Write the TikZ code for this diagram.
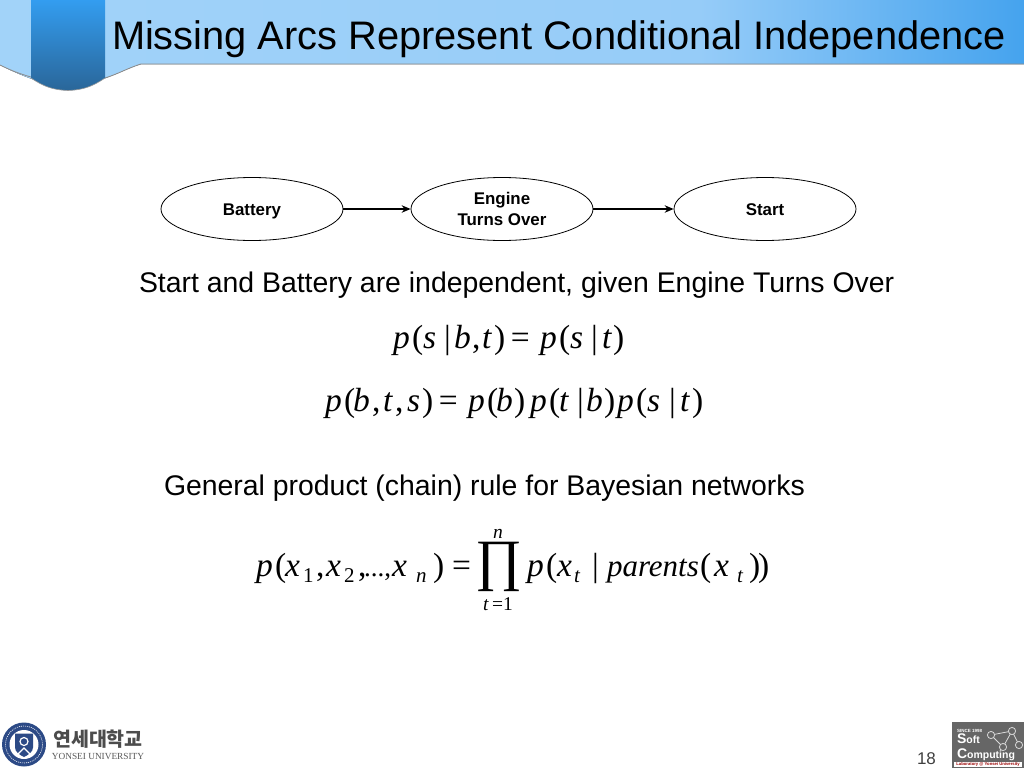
\documentclass[tikz,border=0pt]{standalone}
\usepackage{fontspec}
\setmainfont{Liberation Sans}
\newfontfamily\serifm{Liberation Serif}
\newfontfamily\krfont{Noto Sans CJK KR}
\usetikzlibrary{arrows.meta,shadings,shapes.geometric}
\newcommand{\fs}[1]{\fontsize{#1}{#1}\selectfont}
\newcommand{\mi}[1]{\textit{#1}}
% place a piece of a formula at a horizontal offset from the start of the formula
\newcommand{\pc}[2]{\rlap{\hspace*{#1pt}#2}}
\newcommand{\sbs}[1]{\raisebox{-6pt}{\fs{21}#1}}
\newcommand{\onebase}[1]{\smash{\raisebox{-6pt}{#1}}}
\tikzset{
  txt/.style={anchor=base west,inner sep=0pt,outer sep=0pt,text=black},
  sentence/.style={txt,font=\fs{28.4}},
  formula/.style={txt,font=\serifm\fs{33.5}},
  netnode/.style={draw=black,line width=0.8pt,ellipse,fill=white,minimum width=182pt,minimum height=63pt,inner sep=0pt,align=center,font=\bfseries\fs{16.9}},
  netarrow/.style={draw=black,line width=1.2pt,-{Stealth[length=9pt,width=7.5pt]}},
}
\definecolor{bandA}{HTML}{A2D3F9}
\definecolor{bandB}{HTML}{96CCF8}
\definecolor{bandC}{HTML}{45A3EE}
\definecolor{ribA}{HTML}{339DF0}
\definecolor{ribB}{HTML}{2A6699}
\definecolor{sealblue}{HTML}{2C4A86}
\definecolor{logogray}{HTML}{666666}
\begin{document}
\begin{tikzpicture}[x=1pt,y=-1pt]
\useasboundingbox (0,0) rectangle (1024,768);
\fill[white] (0,0) rectangle (1024,768);
% header band
\begin{scope}
\clip (0,0) -- (1024,0) -- (1024,64) -- (141,64) .. controls (128,68) and (118,74) .. (100,80) -- (35,80) .. controls (20,75) and (10,70) .. (0,65) -- cycle;
\fill[left color=bandA,right color=bandB] (0,0) rectangle (700,85);
\fill[left color=bandB,right color=bandC] (700,0) rectangle (1024,85);
\end{scope}
\draw[draw=black!45,line width=0.8pt] (1024,64) -- (141,64) .. controls (128,68) and (118,74) .. (105,78);
\draw[draw=black!45,line width=0.8pt] (31,77) .. controls (20,74) and (10,70) .. (0,65);
% ribbon
\path[top color=ribA,bottom color=ribB,draw=none] (31,0) -- (105,0) -- (105,78) .. controls (92,87) and (82,90) .. (68,90.5) .. controls (54,90) and (44,87) .. (31,78) -- cycle;
\draw[draw=black!40,line width=0.6pt] (105,78) .. controls (92,87) and (82,90) .. (68,90.5) .. controls (54,90) and (44,87) .. (31,78);
% title
\node[txt,font=\fs{39.8}] (title) at (112,49) {Missing Arcs Represent Conditional Independence};
% network
\node[netnode] (battery) at (252,209) {\onebase{Battery}};
\node[netnode] (engine) at (502,209) {Engine\\[3.5pt]Turns Over};
\node[netnode] (start) at (765,209) {\onebase{Start}};
\draw[netarrow] (battery) -- (engine);
\draw[netarrow] (engine) -- (start);
% sentences
\node[sentence] (s1) at (139,292) {Start and Battery are independent, given Engine Turns Over};
\node[sentence] (s2) at (164,495) {General product (chain) rule for Bayesian networks};
% formulas
\node[formula] (f1) at (393,348) {\pc{0}{\mi{p}}\pc{19}{(}\pc{30}{\mi{s}}\pc{51}{|}\pc{61}{\mi{b}}\pc{79}{,}\pc{89}{\mi{t}}\pc{101}{)}\pc{118}{=}\pc{147}{\mi{p}}\pc{166}{(}\pc{177}{\mi{s}}\pc{198}{|}\pc{209}{\mi{t}}\pc{220}{)}\hspace*{232pt}};
\node[formula] (f2) at (325,411) {\pc{0}{\mi{p}}\pc{19}{(}\pc{28}{\mi{b}}\pc{47}{,}\pc{58}{\mi{t}}\pc{70}{,}\pc{82}{\mi{s}}\pc{97}{)}\pc{114}{=}\pc{143}{\mi{p}}\pc{162}{(}\pc{171}{\mi{b}}\pc{189}{)}\pc{205}{\mi{p}}\pc{224}{(}\pc{234}{\mi{t}}\pc{252}{|}\pc{261}{\mi{b}}\pc{279}{)}\pc{292}{\mi{p}}\pc{311}{(}\pc{322}{\mi{s}}\pc{344}{|}\pc{355}{\mi{t}}\pc{367}{)}\hspace*{379pt}};
\node[formula] (f3a) at (256,576) {\pc{0}{\mi{p}}\pc{19}{(}\pc{29}{\mi{x}}\pc{47}{\sbs{1}}\pc{60}{,}\pc{70}{\mi{x}}\pc{88}{\sbs{2}}\pc{102}{,}\pc{108}{\fs{27}...,}\pc{136}{\mi{x}}\pc{160}{\sbs{\mi{n}}}\pc{177}{)}\pc{196}{=}\hspace*{214pt}};
\node[txt,font=\serifm\fs{57}] (prod) at (475.5,579.5) {∏};
\node[anchor=base,inner sep=0pt,font=\serifm\itshape\fs{19.5}] (upper) at (498,538) {n};
\node[anchor=base,inner sep=0pt,font=\serifm\fs{19.5}] (lower) at (498,610) {\mi{t}\,=1};
\node[formula] (f3b) at (527,576) {\pc{0}{\mi{p}}\pc{19}{(}\pc{30}{\mi{x}}\pc{47}{\sbs{\mi{t}}}\pc{65}{|}\pc{80}{\fs{31}\mi{parents}}\pc{173}{(}\pc{187}{\mi{x}}\pc{210}{\sbs{\mi{t}}}\pc{222}{)}\pc{231}{)}\hspace*{241pt}};
% page number
\node[txt,font=\fs{17},text=black!75] (page) at (917,764) {18};
% Yonsei seal
\fill[fill=sealblue] (24,744.5) circle (22);
\draw[white,line width=0.6pt,dash pattern=on 1pt off 1pt] (24,744.5) circle (18.5);
\fill[white] (24,744.5) circle (14.5);
\fill[fill=sealblue] (15,733.5) -- (33,733.5) -- (33,747.5) .. controls (33,752) and (28,755) .. (24,757) .. controls (20,755) and (15,752) .. (15,747.5) -- cycle;
\draw[white,line width=1.2pt] (24,741.5) circle (4);
\draw[white,line width=1.2pt] (17,755) -- (24,748) -- (31,755);
\node[inner sep=0pt,anchor=center,font=\krfont\bfseries\fs{19.5},text=black!70] (kor) at (98,739) {연세대학교};
\node[inner sep=0pt,anchor=center,font=\serifm\fs{9.3},text=black!65] (yon) at (98,756) {YONSEI UNIVERSITY};
% Soft Computing logo
\fill[fill=logogray] (952,722) rectangle (1024,768);
\fill[fill=white] (954,762) rectangle (1022,767);
\node[inner sep=0pt,font=\bfseries\fs{4.2},text=red!60!black] (lab) at (988,764.5) {Laboratory @ Yonsei University};
\node[txt,font=\bfseries\fs{4.5},text=white] (since) at (957,732) {SINCE 1998};
\node[txt,font=\bfseries\fs{10.5},text=white] (soft) at (957,743) {\fs{14}S\fs{10.5}oft};
\node[txt,font=\bfseries\fs{10.5},text=white] (comp) at (957,758) {\fs{14}C\fs{10.5}omputing};
\coordinate (ca) at (991,735);
\coordinate (cb) at (1012,731);
\coordinate (cc) at (1003,747);
\coordinate (cd) at (1019,745);
\draw[white!85!black,line width=0.8pt] (ca) -- (cc) -- (cb) -- (ca) (cb) -- (cd);
\foreach \p in {ca,cb,cc,cd} \draw[white!85!black,line width=0.8pt,fill=logogray] (\p) circle (3.6);
\end{tikzpicture}
\end{document}
